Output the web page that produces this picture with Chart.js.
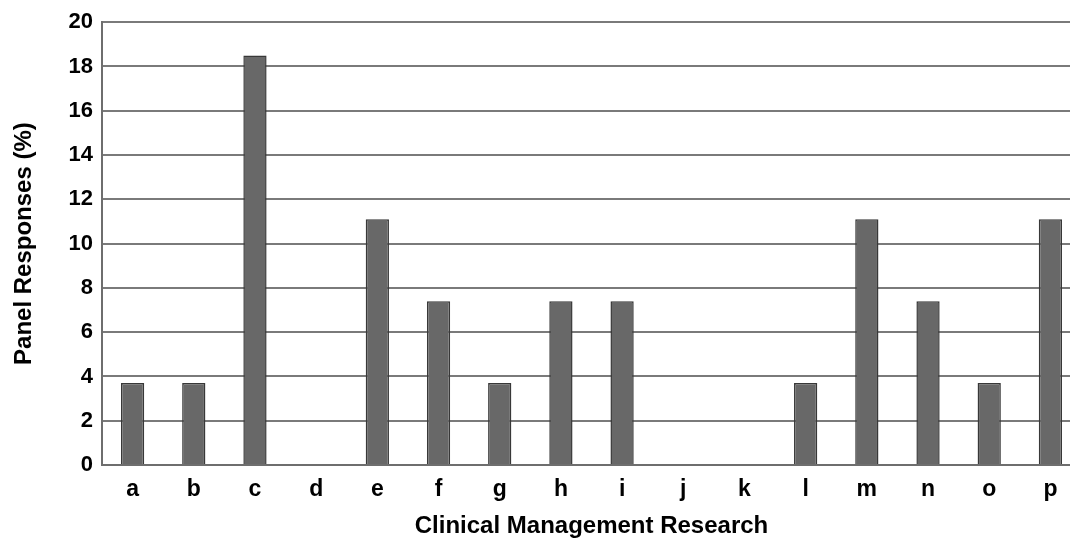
<!DOCTYPE html>
<html>
<head>
<meta charset="utf-8">
<script src="https://cdn.jsdelivr.net/npm/chart.js@4/dist/chart.umd.min.js"></script>
<style>
  html, body { margin: 0; padding: 0; background: #fff; overflow: hidden; width: 1070px; height: 544px; }
  /* the original figure is cropped on the right, so the plot runs past the edge */
  #wrap { width: 1081px; height: 544px; position: relative; }
</style>
</head>
<body>
<div id="wrap"><canvas id="chart"></canvas></div>
<script>
const categories = ['a','b','c','d','e','f','g','h','i','j','k','l','m','n','o','p'];
const responses = [3.7, 3.7, 18.5, 0, 11.1, 7.4, 3.7, 7.4, 7.4, 0, 0, 3.7, 11.1, 7.4, 3.7, 11.1];
const yTicks = [0, 2, 4, 6, 8, 10, 12, 14, 16, 18, 20];

const font = 'Liberation Sans, Arial, sans-serif';

new Chart(document.getElementById('chart'), {
  type: 'bar',
  data: {
    labels: categories,
    datasets: [{
      data: responses,
      backgroundColor: '#686868',
      borderColor: '#383838',
      borderWidth: 1.5,
      categoryPercentage: 1,
      barPercentage: 0.38
    }]
  },
  options: {
    responsive: true,
    maintainAspectRatio: false,
    animation: false,
    layout: { padding: { top: 16, right: 0, left: 0, bottom: 0 } },
    plugins: { legend: { display: false }, tooltip: { enabled: false } },
    scales: {
      x: {
        grid: { display: false },
        border: { color: '#6e6e6e', width: 2 },
        ticks: { color: '#000', font: { family: font, size: 23, weight: 'bold' }, padding: 3 },
        title: {
          display: true,
          text: 'Clinical Management Research',
          color: '#000',
          font: { family: font, size: 24, weight: 'bold' },
          padding: { top: 0, bottom: 3 }
        },
        afterFit: s => { s.height = 79; }
      },
      y: {
        min: 0,
        max: 20,
        afterBuildTicks: s => { s.ticks = yTicks.map(v => ({ value: v })); },
        grid: { color: '#7a7a7a', lineWidth: 2, drawTicks: false },
        border: { color: '#6e6e6e', width: 2 },
        ticks: { color: '#000', font: { family: font, size: 22, weight: 'bold' }, padding: 9 },
        title: {
          display: true,
          text: 'Panel Responses (%)',
          color: '#000',
          font: { family: font, size: 24, weight: 'bold' },
          padding: { top: 10, bottom: 0 }
        },
        afterFit: s => { s.width = 102; }
      }
    }
  }
});
</script>
</body>
</html>
